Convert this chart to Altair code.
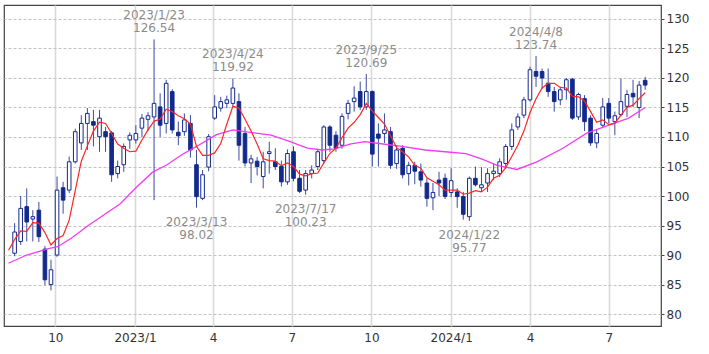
import altair as alt
import pandas as pd

# ---------------- data (weekly candles) ----------------
week_start = "2022-08-15"
n_weeks = 105

opens = [90.3, 92.3, 98.2, 96.1, 97.6, 91.0, 85.0, 90.0, 101.4, 101.0,
         105.8, 109.0, 112.3, 112.6, 110.05, 110.9, 110.7, 103.8, 105.3, 109.5,
         109.5, 111.5, 113.0, 113.4, 115.1, 112.3, 117.7, 110.8, 110.9, 112.3,
         105.3, 99.6, 104.9, 113.2, 114.9, 115.7, 115.7, 116.0, 110.6, 105.6,
         105.9, 103.3, 107.2, 105.8, 105.0, 102.4, 107.5, 103.0, 101.0, 103.8,
         105.0, 106.0, 111.7, 110.3, 108.6, 114.0, 116.0, 117.7, 115.1, 117.7,
         110.5, 110.6, 110.9, 105.5, 108.1, 103.8, 105.2, 104.1, 102.2, 99.7,
         102.7, 103.0, 100.6, 100.7, 99.9, 96.5, 103.0, 101.4, 102.2, 103.8,
         103.8, 105.5, 108.4, 111.7, 113.7, 116.3, 121.1, 121.1, 119.1, 117.7,
         116.3, 118.0, 119.8, 113.4, 116.5, 113.2, 109.0, 112.0, 115.7, 112.6,
         113.8, 115.2, 117.4, 115.0, 119.6]
highs = [95.4, 100.0, 101.3, 97.6, 99.0, 91.5, 89.2, 103.3, 102.4, 106.7,
         111.4, 113.7, 114.9, 114.6, 114.6, 111.7, 111.0, 106.0, 108.9, 110.8,
         112.0, 113.9, 114.2, 126.54, 117.4, 119.7, 118.1, 112.6, 114.0, 113.7,
         107.8, 104.4, 110.5, 117.1, 116.8, 117.0, 119.92, 117.4, 111.7, 107.0,
         106.6, 107.5, 109.2, 108.1, 106.0, 107.9, 108.4, 104.4, 104.4, 105.2,
         108.0, 112.0, 112.0, 111.0, 114.0, 116.3, 118.6, 119.4, 120.69, 117.9,
         112.3, 114.0, 111.7, 108.6, 108.6, 105.8, 105.8, 105.5, 103.0, 102.2,
         104.1, 103.8, 104.7, 101.3, 100.7, 103.3, 105.0, 104.9, 104.7, 105.5,
         106.4, 108.8, 112.3, 114.0, 116.8, 121.9, 123.74, 121.6, 121.6, 118.5,
         118.5, 120.0, 120.0, 117.5, 117.1, 113.7, 111.3, 116.6, 116.6, 114.3,
         119.9, 118.0, 119.7, 119.5, 120.2]
lows = [89.8, 91.7, 92.3, 92.3, 92.2, 84.9, 84.0, 89.7, 97.0, 100.5,
        105.5, 107.8, 107.8, 108.4, 107.5, 107.5, 102.4, 103.0, 104.1, 108.0,
        108.9, 110.0, 111.0, 99.3, 110.0, 110.6, 110.6, 108.6, 110.2, 106.5,
        98.02, 99.3, 104.2, 112.9, 114.3, 114.9, 115.2, 106.0, 105.0, 102.2,
        103.5, 101.3, 103.8, 104.4, 101.6, 101.9, 102.5, 100.5, 100.23, 103.0,
        104.4, 105.5, 107.5, 107.5, 108.0, 113.0, 114.3, 114.6, 114.6, 105.0,
        105.0, 109.0, 104.6, 104.6, 103.0, 101.8, 102.0, 101.6, 98.2, 97.6,
        100.0, 99.5, 99.8, 98.0, 96.0, 95.77, 101.6, 100.7, 100.7, 102.7,
        103.2, 104.6, 107.8, 111.2, 113.2, 116.0, 118.5, 118.2, 116.8, 114.3,
        115.4, 116.3, 112.9, 112.9, 111.0, 108.5, 108.1, 111.7, 112.3, 110.3,
        113.5, 113.4, 115.1, 113.2, 118.0]
closes = [93.9, 97.9, 95.6, 96.5, 93.1, 85.8, 87.5, 101.0, 99.3, 105.8,
          110.9, 112.3, 114.0, 112.0, 113.2, 110.05, 103.6, 105.0, 108.4, 110.3,
          110.6, 113.2, 113.6, 115.7, 112.0, 119.1, 111.2, 110.2, 112.9, 107.8,
          99.9, 103.6, 110.05, 115.1, 116.0, 116.3, 118.3, 108.6, 105.6, 106.3,
          105.0, 105.8, 107.5, 105.0, 102.4, 107.2, 103.0, 100.8, 103.8, 104.4,
          107.5, 111.7, 108.6, 108.1, 113.5, 115.7, 116.6, 115.1, 117.7, 107.1,
          109.8, 111.2, 105.2, 107.8, 103.6, 105.2, 104.2, 102.7, 99.6, 100.6,
          102.2, 99.9, 102.6, 99.9, 96.9, 103.0, 101.9, 101.9, 103.8, 104.2,
          105.8, 108.4, 111.2, 113.4, 116.3, 121.4, 120.3, 120.0, 117.7, 116.0,
          118.0, 119.7, 113.2, 117.2, 112.6, 109.0, 110.6, 115.1, 113.2, 113.6,
          116.0, 117.2, 116.8, 118.8, 118.8]

# short moving average (red), one value per week starting one week before the first candle
ma_short_start = "2022-08-08"
ma_short_values = [90.8, 92.6, 94.1, 94.0, 95.5,
                   95.4, 93.8, 91.7, 92.8, 93.3, 95.9, 100.9, 105.9, 108.5, 111.0,
                   112.5, 112.3, 110.6, 108.8, 108.1, 107.5, 107.6, 109.5, 111.2, 112.7,
                   113.0, 114.7, 114.3, 113.6, 113.1, 112.2, 108.4, 106.9, 106.9, 107.3,
                   108.9, 112.2, 115.2, 114.9, 113.0, 111.0, 108.8, 106.3, 106.0, 105.9,
                   105.1, 105.6, 105.0, 103.7, 103.4, 103.8, 103.9, 105.6, 107.2, 108.1,
                   109.9, 111.5, 112.5, 113.8, 115.7, 114.4, 113.3, 112.2, 110.2, 108.2,
                   107.5, 106.6, 105.2, 104.7, 103.1, 102.5, 101.9, 101.0, 101.0, 101.0,
                   100.3, 100.5, 100.9, 100.7, 101.5, 103.0, 103.5, 104.8, 106.7, 108.6,
                   111.0, 114.1, 116.5, 118.3, 119.1, 119.1, 118.4, 118.3, 116.9, 116.8,
                   116.1, 114.3, 112.5, 112.9, 112.1, 112.3, 113.7, 115.0, 115.4, 116.5,
                   117.5]

# long moving average (magenta), read at points along the line
ma_long_dates = ["2022-08-08", "2022-08-29", "2022-09-23", "2022-10-04", "2022-10-21",
                 "2022-11-08", "2022-11-28", "2022-12-15", "2023-01-02", "2023-01-21",
                 "2023-02-07", "2023-02-24", "2023-03-13", "2023-04-05", "2023-04-24",
                 "2023-05-18", "2023-06-07", "2023-06-26", "2023-07-19", "2023-08-05",
                 "2023-08-20", "2023-09-06", "2023-09-23", "2023-10-10", "2023-11-05",
                 "2023-12-02", "2023-12-25", "2024-01-18", "2024-02-05", "2024-02-23",
                 "2024-03-17", "2024-04-09", "2024-05-09", "2024-06-05", "2024-07-01",
                 "2024-07-24", "2024-08-12"]
ma_long_values = [88.6, 90.0, 91.1, 91.4, 93.0,
                  95.0, 97.0, 98.7, 101.4, 104.0,
                  105.3, 107.0, 108.4, 110.4, 111.2,
                  110.7, 110.3, 109.4, 108.1, 107.8,
                  108.0, 108.8, 109.2, 108.9, 108.4,
                  107.8, 107.5, 107.2, 106.3, 105.2,
                  104.5, 105.8, 108.1, 110.6, 112.0,
                  113.2, 115.0]

# annotations of highs and lows
ann_dates = ["2023-01-23", "2023-03-13", "2023-04-24", "2023-07-17",
             "2023-09-25", "2024-01-22", "2024-04-08"]
ann_labels = ["2023/1/23", "2023/3/13", "2023/4/24", "2023/7/17",
              "2023/9/25", "2024/1/22", "2024/4/8"]
ann_values = [126.54, 98.02, 119.92, 100.23, 120.69, 95.77, 123.74]
ann_kinds = ["high", "low", "high", "low", "high", "low", "high"]

# axes
x_tick_dates = ["2022-10-01", "2023-01-01", "2023-04-01", "2023-07-01",
                "2023-10-01", "2024-01-01", "2024-04-01", "2024-07-01"]
x_tick_labels = ["10", "2023/1", "4", "7", "10", "2024/1", "4", "7"]
y_tick_values = [80, 85, 90, 95, 100, 105, 110, 115, 120, 125, 130]

# ---------------- tables ----------------
dates = pd.date_range(week_start, periods=n_weeks, freq="7D").strftime("%Y-%m-%d").tolist()
candles = pd.DataFrame({"date": dates, "open": opens, "high": highs,
                        "low": lows, "close": closes})
ma_short = pd.DataFrame({
    "date": pd.date_range(ma_short_start, periods=len(ma_short_values), freq="7D").strftime("%Y-%m-%d").tolist(),
    "value": ma_short_values})
ma_long = pd.DataFrame({"date": ma_long_dates, "value": ma_long_values})
ann = pd.DataFrame({"date": ann_dates, "label": ann_labels,
                    "value": ann_values, "kind": ann_kinds})


def ms(s):
    return int(pd.Timestamp(s, tz="UTC").value // 10**6)


x_domain = [ms("2022-08-08 12:28"), ms("2024-08-24 12:00")]
x_tick_ms = [ms(d) for d in x_tick_dates]
label_expr = ("[" + ",".join("'%s'" % l for l in x_tick_labels) + "][indexof(["
              + ",".join(str(t) for t in x_tick_ms) + "], time(datum.value))]")

x_scale = alt.Scale(type="utc", domain=x_domain)
x_axis = alt.Axis(values=x_tick_ms, labelExpr=label_expr, grid=True,
                  gridColor="#dadada", gridWidth=1.6, ticks=False, domain=False,
                  labelPadding=6, title=None, labelOverlap=False, labelFlush=False)
y_scale = alt.Scale(domain=[77.97, 132.37], nice=False, zero=False)
y_axis = alt.Axis(orient="right", values=y_tick_values, grid=True,
                  gridColor="#c2c2c2", gridDash=[3, 2], gridWidth=1,
                  tickSize=3, tickColor="#444", domain=False, labelPadding=2,
                  title=None)

NAVY = "#132a8c"
WICK = "#3b4ba0"
TXT = "#8c8c8c"


def X():
    return alt.X("date:T", scale=x_scale, axis=x_axis)


wick = alt.Chart(candles).mark_rule(color=WICK, strokeWidth=1).encode(
    x=X(), y=alt.Y("low:Q", scale=y_scale, axis=y_axis), y2="high:Q")

body = alt.Chart(candles).mark_bar(size=3.6, stroke=NAVY, strokeWidth=1).encode(
    x=X(), y=alt.Y("open:Q", scale=y_scale, axis=y_axis), y2="close:Q",
    fill=alt.condition("datum.close >= datum.open", alt.value("white"), alt.value(NAVY)))

line_long = alt.Chart(ma_long).mark_line(color="#f23cf2", strokeWidth=1.3, clip=True).encode(
    x=X(), y=alt.Y("value:Q", scale=y_scale, axis=y_axis))

line_short = alt.Chart(ma_short).mark_line(color="#ff2626", strokeWidth=1.2, clip=True).encode(
    x=X(), y=alt.Y("value:Q", scale=y_scale, axis=y_axis))


def ann_text(kind, field, dy, fmt=None):
    txt = alt.Text(field + ":Q", format=fmt) if fmt else alt.Text(field + ":N")
    return alt.Chart(ann).transform_filter("datum.kind == '%s'" % kind).mark_text(
        font="DejaVu Sans", fontSize=12, color=TXT, align="center",
        baseline="alphabetic", dy=dy).encode(
        x=X(), y=alt.Y("value:Q", scale=y_scale, axis=y_axis), text=txt)


t_hi_date = ann_text("high", "label", -20)
t_hi_val = ann_text("high", "value", -7, ".2f")
t_lo_date = ann_text("low", "label", 18)
t_lo_val = ann_text("low", "value", 31, ".2f")

chart = alt.layer(wick, body, line_long, line_short,
                  t_hi_date, t_hi_val, t_lo_date, t_lo_val).properties(
    width=657, height=321,
    padding={"left": 4, "top": 5, "right": 0, "bottom": 0},
    background="white",
).configure_view(stroke="#444444", strokeWidth=1.2).configure_axis(
    labelFont="DejaVu Sans", labelFontSize=12, labelColor="#333333")

chart.save("out.html", embed_options={"renderer": "svg", "actions": False})
